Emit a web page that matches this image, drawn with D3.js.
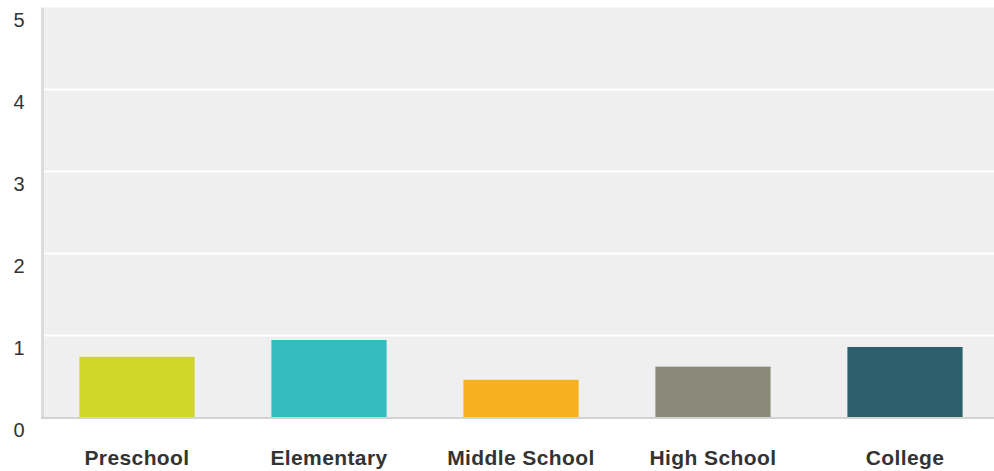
<!DOCTYPE html>
<html>
<head>
<meta charset="utf-8">
<script src="https://cdn.jsdelivr.net/npm/d3@7"></script>
<style>
  body { margin: 0; background: #fff; }
  svg { display: block; font-family: "Liberation Sans", Arial, sans-serif; }
</style>
</head>
<body>
<svg id="chart"></svg>
<script>
const width = 994;
const height = 471;

const categories = ["Preschool", "Elementary", "Middle School", "High School", "College"];
const values = [0.74, 0.945, 0.46, 0.62, 0.86];
const colors = ["#d0d527", "#33bdbf", "#f7b11f", "#8a8a7a", "#2d5f6c"];
const yTicks = [0, 1, 2, 3, 4, 5];

const svg = d3.select("#chart").attr("width", width).attr("height", height);

const x = d3.scaleBand().domain(categories).range([41, 1001])
  .paddingInner(0.4).paddingOuter(0.2);
const y = d3.scaleLinear().domain([0, 5]).range([417.5, 7.5]);

// plot background
svg.append("rect")
  .attr("x", 43).attr("y", y(5))
  .attr("width", width - 43).attr("height", y(0) - y(5))
  .attr("fill", "#efefef");

// gridlines
svg.append("g").selectAll("line")
  .data(yTicks.filter((d) => d > 0 && d < 5))
  .enter().append("line")
  .attr("x1", 43).attr("x2", width)
  .attr("y1", (d) => y(d)).attr("y2", (d) => y(d))
  .attr("stroke", "#fff").attr("stroke-width", 2);

// bars
svg.append("g").selectAll("rect")
  .data(categories)
  .enter().append("rect")
  .attr("x", (d) => x(d))
  .attr("width", x.bandwidth())
  .attr("y", (d, i) => y(values[i]))
  .attr("height", (d, i) => y(0) - y(values[i]))
  .attr("fill", (d, i) => colors[i]);

// axis lines
svg.append("line")
  .attr("x1", 42.5).attr("x2", 42.5)
  .attr("y1", y(5)).attr("y2", y(0) + 1.5)
  .attr("stroke", "#dcdcdc").attr("stroke-width", 3);
svg.append("line")
  .attr("x1", 41).attr("x2", width)
  .attr("y1", y(0) + 0.5).attr("y2", y(0) + 0.5)
  .attr("stroke", "#d3d3d3").attr("stroke-width", 2);

// y tick labels
svg.append("g").selectAll("text")
  .data(yTicks)
  .enter().append("text")
  .attr("x", 19)
  .attr("y", (d) => y(d) + 19.5)
  .attr("text-anchor", "middle")
  .attr("font-size", 20)
  .attr("fill", "#333")
  .text((d) => d);

// x labels
svg.append("g").selectAll("text")
  .data(categories)
  .enter().append("text")
  .attr("x", (d) => x(d) + x.bandwidth() / 2)
  .attr("y", 465)
  .attr("text-anchor", "middle")
  .attr("font-size", 21)
  .attr("font-weight", "bold")
  .attr("letter-spacing", 0.4)
  .attr("fill", "#333")
  .text((d) => d);
</script>
</body>
</html>
